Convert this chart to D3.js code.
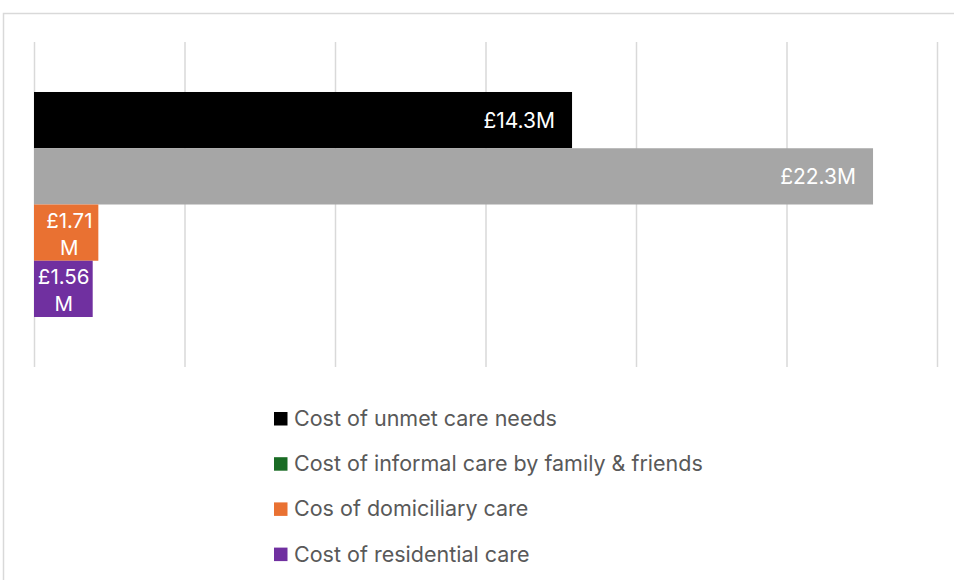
<!DOCTYPE html>
<html><head><meta charset="utf-8">
<script src="https://cdn.jsdelivr.net/npm/d3@7"></script>
<style>
  body { margin: 0; background: #fff; }
  svg { display: block; font-family: Inter, "Open Sans", sans-serif; }
</style>
</head>
<body>
<svg id="chart" width="954" height="580"></svg>
<script>
// Care cost comparison (£ millions)
const series = [
  "Cost of unmet care needs",
  "Cost of informal care by family & friends",
  "Cos of domiciliary care",
  "Cost of residential care"
];
const values = [14.3, 22.3, 1.71, 1.56];
const valueLabels = ["£14.3M", "£22.3M", "£1.71 M", "£1.56 M"];
const barColors = ["#000000", "#a6a6a6", "#e97132", "#7030a0"];
const legendColors = ["#000000", "#196b24", "#e97132", "#7030a0"];
const tickValues = [0, 4, 8, 12, 16, 20, 24];

const svg = d3.select("#chart");

// chart frame
svg.append("rect")
  .attr("x", 3.5).attr("y", 13.5)
  .attr("width", 1000).attr("height", 700)
  .attr("fill", "none")
  .attr("stroke", "#d9d9d9")
  .attr("stroke-width", 1.5);

const plotTop = 42, plotBottom = 367;

const x = d3.scaleLinear().domain([0, 24]).range([34, 937]);

// one category band, split into four series bars
const outer = d3.scaleBand().domain(["all"]).range([plotTop, plotBottom]).paddingInner(0).paddingOuter(0.2222);
const y = d3.scaleBand().domain(series).range([outer("all"), outer("all") + outer.bandwidth()]).padding(0);

// vertical gridlines (no tick labels)
const axis = d3.axisBottom(x).tickValues(tickValues).tickSize(-(plotBottom - plotTop)).tickFormat("");
const gAxis = svg.append("g").attr("transform", `translate(0,${plotBottom})`).call(axis);
gAxis.select(".domain").remove();
gAxis.selectAll(".tick line").attr("stroke", "#d9d9d9").attr("stroke-width", 1.5);

// bars
svg.append("g").selectAll("rect")
  .data(series)
  .join("rect")
  .attr("x", x(0))
  .attr("y", d => y(d))
  .attr("width", (d, i) => x(values[i]) - x(0))
  .attr("height", y.bandwidth())
  .attr("fill", (d, i) => barColors[i]);

// value labels, inside end of each bar; narrow bars wrap onto two lines
const labels = svg.append("g")
  .attr("fill", "#ffffff")
  .attr("font-size", 21);

series.forEach((s, i) => {
  const end = x(values[i]);
  const cy = y(s) + y.bandwidth() / 2;
  const parts = valueLabels[i].split(" ");
  if (parts.length === 1) {
    labels.append("text")
      .attr("x", end - 17)
      .attr("y", cy)
      .attr("dy", "0.36em")
      .attr("text-anchor", "end")
      .text(parts[0]);
  } else {
    const t = labels.append("text")
      .attr("text-anchor", "middle")
      .attr("font-size", 20.5);
    parts.forEach((p, k) => {
      t.append("tspan")
        .attr("x", end - 29)
        .attr("y", cy + (k === 0 ? -5 : 22.5))
        .text(p);
    });
  }
});

// legend
const legend = svg.append("g").attr("transform", "translate(274,412)");
series.forEach((s, i) => {
  const g = legend.append("g").attr("transform", `translate(0,${i * 45.2})`);
  g.append("rect").attr("width", 13.5).attr("height", 13.5).attr("fill", legendColors[i]);
  g.append("text")
    .attr("x", 20)
    .attr("y", 14)
    .attr("fill", "#595959")
    .attr("font-size", 21.5)
    .text(s);
});
</script>
</body></html>
